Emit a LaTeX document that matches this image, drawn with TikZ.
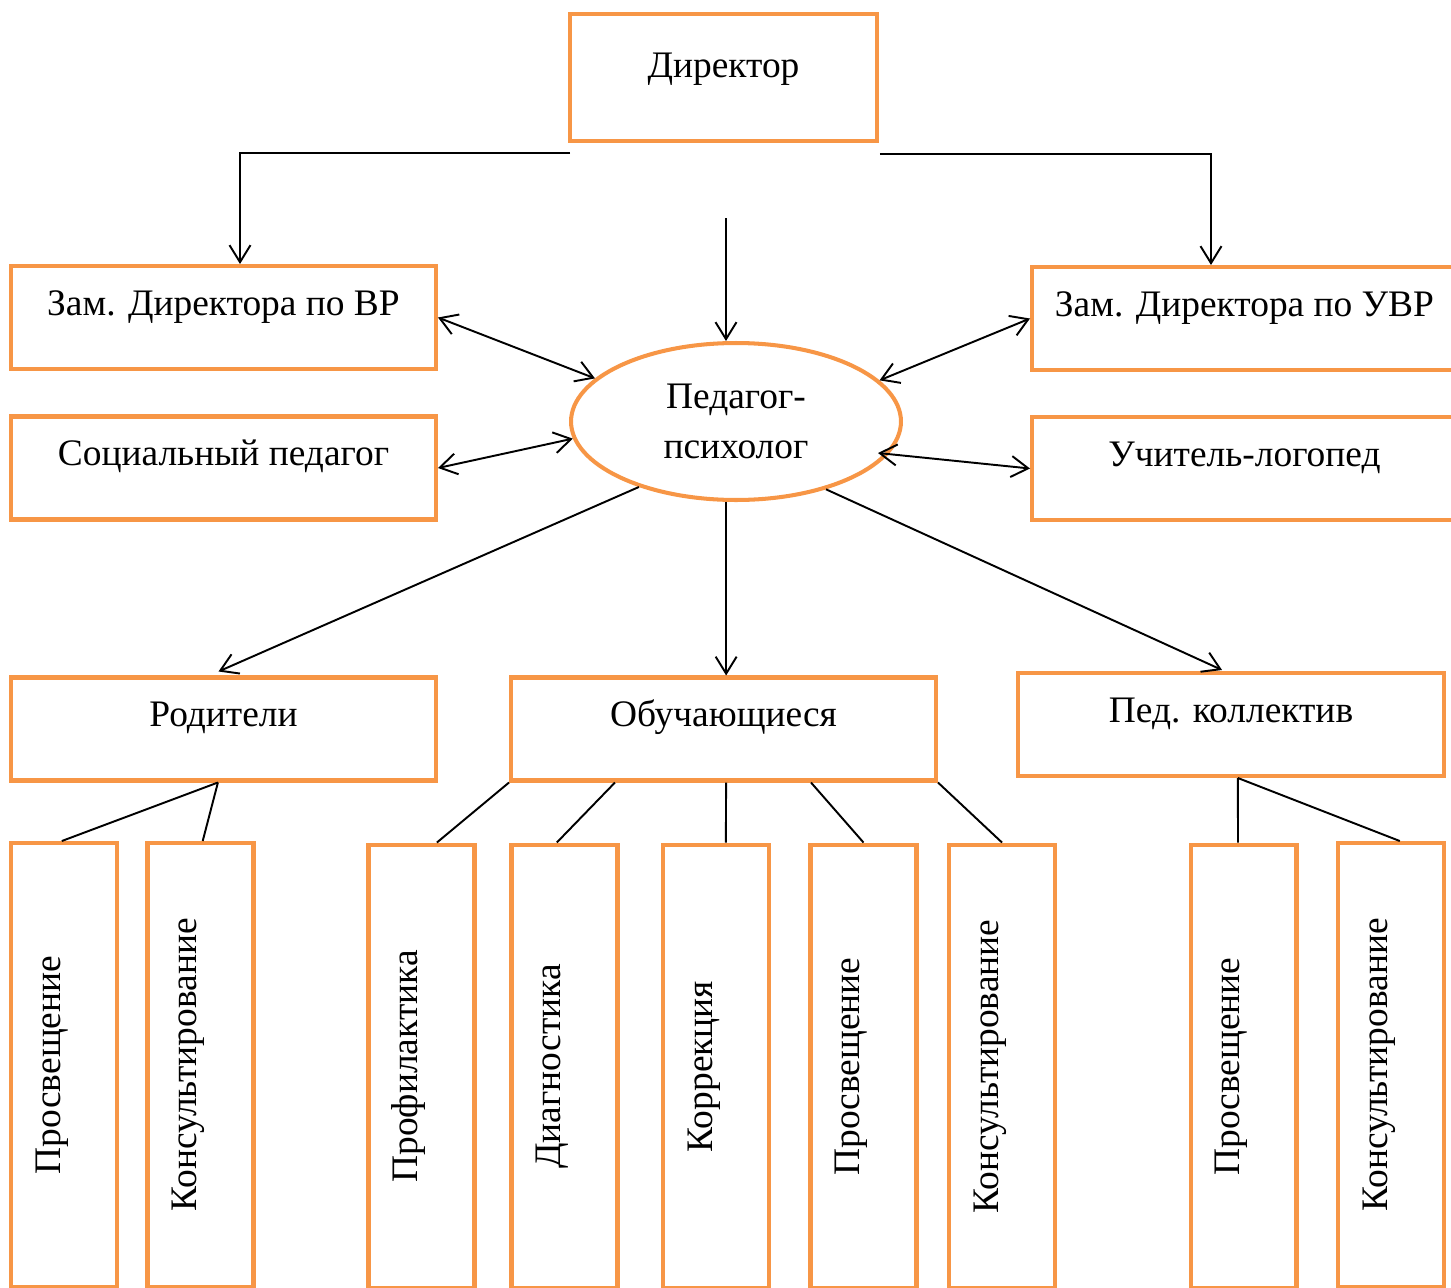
\documentclass[tikz,border=0pt]{standalone}
\usepackage{fontspec}
\setmainfont{Liberation Serif}
\usepackage{xcolor}
\usetikzlibrary{arrows.meta,shapes.geometric,calc}
\definecolor{orng}{HTML}{F79646}
\begin{document}
\begin{tikzpicture}[x=0.02cm,y=-0.02cm,>={Straight Barb[length=3.4mm,width=4.2mm]},line width=1.1pt]
	\tikzstyle{box}=[draw=orng,line width=2.3pt,inner sep=0pt,text height=0.98cm,text depth=1.08cm,font=\fontsize{21.3}{28}\selectfont]
	\tikzstyle{vbox}=[box,rotate=90,minimum width=8.88cm,minimum height=2.12cm,text depth=1.14cm]
	\clip (0,0) rectangle (1451,1288);
	% top level
	\node[box,minimum width=6.14cm,text height=1.26cm,text depth=1.28cm] (dir) at (723.5,77.5) {Директор};
	\node[box,minimum width=8.5cm] (zvr)  at (223.5,317.5)  {Зам. Директора по ВР};
	\node[box,minimum width=8.5cm] (soc)  at (223.5,468)    {Социальный педагог};
	\node[box,minimum width=8.5cm] (zuvr) at (1244.5,318.5) {Зам. Директора по УВР};
	\node[box,minimum width=8.5cm] (logo) at (1244.5,468.5) {Учитель-логопед};
	\node[draw=orng,line width=2.3pt,ellipse,inner sep=0pt,minimum width=6.6cm,minimum height=3.14cm,align=center,font=\fontsize{21.3}{28}\selectfont] (ell) at (736,421.5) {Педагог-\\психолог};
	% second level
	\node[box,minimum width=8.5cm]  (rod) at (223.5,729) {Родители};
	\node[box,minimum width=8.5cm]  (obu) at (723.5,729) {Обучающиеся};
	\node[box,minimum width=8.52cm] (ped) at (1231,724.5) {Пед. коллектив};
	% work forms
	\node[vbox] (p1) at (64,1065)     {Просвещение};
	\node[vbox] (k1) at (200.5,1065)  {Консультирование};
	\node[vbox] (pr) at (421.5,1066.5) {Профилактика};
	\node[vbox] (d)  at (564.5,1066.5) {Диагностика};
	\node[vbox] (c)  at (716,1066.5)   {Коррекция};
	\node[vbox] (p2) at (863.5,1066.5) {Просвещение};
	\node[vbox] (k2) at (1002,1066.5)  {Консультирование};
	\node[vbox] (p3) at (1243.5,1066.5) {Просвещение};
	\node[vbox] (k3) at (1391,1065)    {Консультирование};
	\coordinate (top) at (726,218);
	\draw[->] ($(dir.south west)+(2,10)$) -| ($(zvr.north)+(16.5,0)$);
	\draw[->] ($(dir.south east)+(1,11)$) -| ($(zuvr.north)+(-33.5,0)$);
	\path[->]
	(top) edge (top |- ell.north)
	(ell.214) edge ($(rod.north)+(-5,-4)$)
	(ell.263) edge (ell.263 |- obu.north)
	(ell.-37) edge ($(ped.north)+(-9,-1)$);
	\path[<->]
	(zvr.east) edge (ell.163)
	(soc.east) edge (ell.186)
	(zuvr.west) edge (ell.16)
	(logo.west) edge ($(ell.center)+(142,31.5)$);
	\path[-]
	($(rod.south west)!0.487!(rod.south east)$) edge ($(p1.north east)!0.48!(p1.south east)$)
	($(rod.south west)!0.487!(rod.south east)$) edge ($(k1.north east)!0.52!(k1.south east)$)
	(obu.south west) edge ($(pr.north east)!0.64!(pr.south east)$)
	($(obu.south west)!0.247!(obu.south east)$) edge ($(d.north east)!0.43!(d.south east)$)
	($(obu.south west)!0.506!(obu.south east)$) edge ($(c.north east)!0.59!(c.south east)$)
	($(obu.south west)!0.704!(obu.south east)$) edge (p2.east)
	(obu.south east) edge (k2.east)
	($(ped.south west)!0.516!(ped.south east)$) edge ($(p3.north east)!0.45!(p3.south east)$)
	($(ped.south west)!0.516!(ped.south east)$) edge ($(k3.north east)!0.58!(k3.south east)$);
\end{tikzpicture}
\end{document}
